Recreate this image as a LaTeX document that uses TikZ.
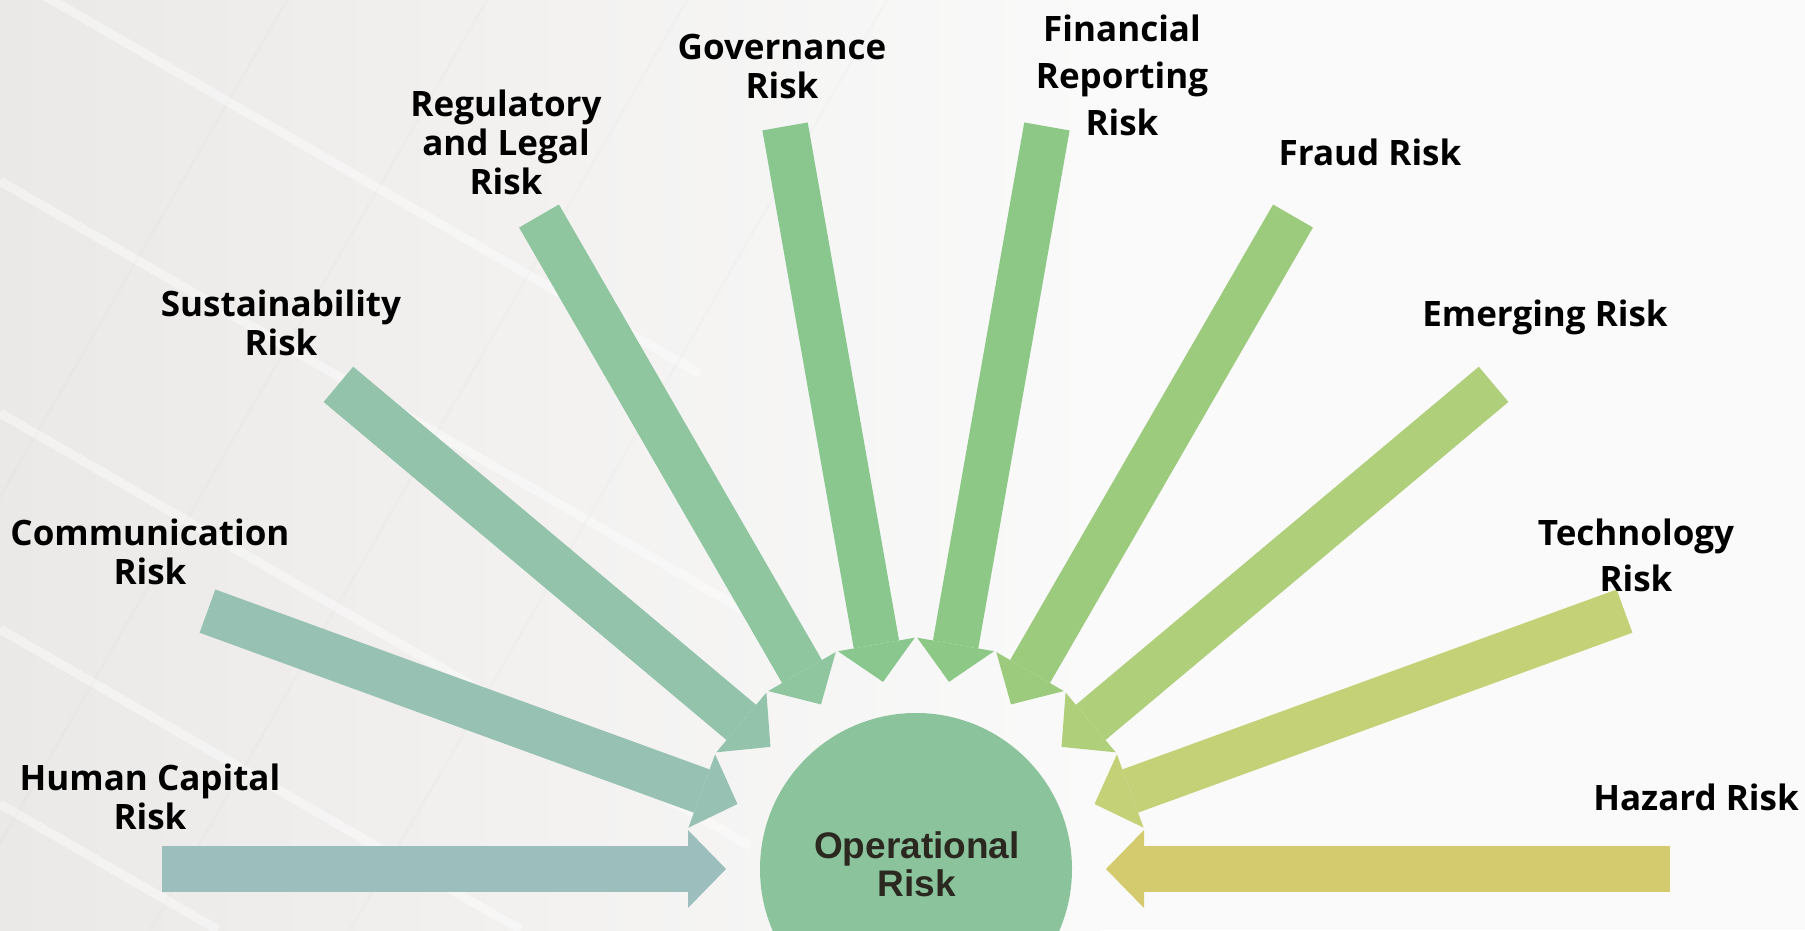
\documentclass[tikz,border=0pt]{standalone}
\usepackage{fontspec}
\setmainfont{Open Sans}
\newfontfamily\arialfont{Liberation Sans}
\usetikzlibrary{arrows.meta}
\definecolor{bgleft}{HTML}{EBE9E7}
\definecolor{bgright}{HTML}{FAFAFA}
\definecolor{opfill}{HTML}{8BC49C}
\definecolor{optextcol}{HTML}{2B2820}
\definecolor{humancol}{HTML}{9CBFBD}
\definecolor{commcol}{HTML}{97C2B3}
\definecolor{sustcol}{HTML}{93C3AB}
\definecolor{regcol}{HTML}{8FC6A0}
\definecolor{govcol}{HTML}{89C78F}
\definecolor{fincol}{HTML}{8DC886}
\definecolor{fraudcol}{HTML}{9CCB7E}
\definecolor{emergcol}{HTML}{AFCF7A}
\definecolor{techcol}{HTML}{C4D177}
\definecolor{hazcol}{HTML}{D3CB6E}
\tikzset{
  risklabel/.style = {font=\bfseries\fontsize{35}{39}\selectfont, align=center, inner sep=0},
  riskarrow/.style = {line width=46pt, draw=#1, -{Triangle[width=78pt, length=38pt, line width=0pt]}},
  optext/.style = {font=\arialfont\bfseries\fontsize{37}{38}\selectfont, text=optextcol, align=center, inner sep=0},
  streak/.style = {white, line width=9pt, opacity=0.4},
  crease/.style = {black, line width=3pt, opacity=0.012}
}

\begin{document}
\begin{tikzpicture}[x=1pt, y=1pt]
  \useasboundingbox (0, 0) rectangle (1805, 930);
  \clip (0, 0) rectangle (1805, 930);

  % background
  \fill [bgright] (0, 0) rectangle (1805, 930);
  \shade [left color=bgleft, right color=bgright] (0, 0) rectangle (1100, 930);
  \draw [streak] (0, 960) -- (700, 556);
  \draw [streak] (0, 749) -- (750, 316);
  \draw [streak] (0, 517) -- (750, 84);
  \draw [streak] (0, 301) -- (521, 0);
  \draw [streak] (0, 126) -- (218, 0);
  \draw [crease] (-250, 0) -- (287, 930);
  \draw [crease] (-50, 0) -- (487, 930);
  \draw [crease] (150, 0) -- (687, 930);
  \draw [crease] (350, 0) -- (887, 930);

  \node [circle, fill=opfill, minimum size=312, inner sep=0] (oprisk) at (916, 61) {};
  \node [optext] (optitle) at (917, 66) {Operational\\Risk};

  \coordinate (humanT) at ([shift={(180:754)}]oprisk.center);
  \coordinate (humanH) at ([shift={(180:190)}]oprisk.center);
  \coordinate (commT) at ([shift={(160:754)}]oprisk.center);
  \coordinate (commH) at ([shift={(160:190)}]oprisk.center);
  \coordinate (sustT) at ([shift={(140:754)}]oprisk.center);
  \coordinate (sustH) at ([shift={(140:190)}]oprisk.center);
  \coordinate (regT) at ([shift={(120:754)}]oprisk.center);
  \coordinate (regH) at ([shift={(120:190)}]oprisk.center);
  \coordinate (govT) at ([shift={(100:754)}]oprisk.center);
  \coordinate (govH) at ([shift={(100:190)}]oprisk.center);
  \coordinate (finT) at ([shift={(80:754)}]oprisk.center);
  \coordinate (finH) at ([shift={(80:190)}]oprisk.center);
  \coordinate (fraudT) at ([shift={(60:754)}]oprisk.center);
  \coordinate (fraudH) at ([shift={(60:190)}]oprisk.center);
  \coordinate (emergT) at ([shift={(40:754)}]oprisk.center);
  \coordinate (emergH) at ([shift={(40:190)}]oprisk.center);
  \coordinate (techT) at ([shift={(20:754)}]oprisk.center);
  \coordinate (techH) at ([shift={(20:190)}]oprisk.center);
  \coordinate (hazT) at ([shift={(0:754)}]oprisk.center);
  \coordinate (hazH) at ([shift={(0:190)}]oprisk.center);

  \draw [riskarrow=humancol] (humanT) -- (humanH);
  \draw [riskarrow=commcol] (commT) -- (commH);
  \draw [riskarrow=sustcol] (sustT) -- (sustH);
  \draw [riskarrow=regcol] (regT) -- (regH);
  \draw [riskarrow=govcol] (govT) -- (govH);
  \draw [riskarrow=fincol] (finT) -- (finH);
  \draw [riskarrow=fraudcol] (fraudT) -- (fraudH);
  \draw [riskarrow=emergcol] (emergT) -- (emergH);
  \draw [riskarrow=techcol] (techT) -- (techH);
  \draw [riskarrow=hazcol] (hazT) -- (hazH);

  \node [risklabel] (human) at (150, 133) {Human Capital\\Risk};
  \node [risklabel] (comm) at (150, 378) {Communication\\Risk};
  \node [risklabel] (sust) at (281, 607) {Sustainability\\Risk};
  \node [risklabel] (reg) at (506, 788) {Regulatory\\and Legal\\Risk};
  \node [risklabel] (gov) at (782, 863) {Governance\\Risk};
  \node [risklabel] (fin) at (1122, 855) {Financial\\[8pt]Reporting\\[8pt]Risk};
  \node [risklabel] (fraud) at (1370, 778) {Fraud Risk};
  \node [risklabel] (emerg) at (1545, 613) {Emerging Risk};
  \node [risklabel] (tech) at (1636, 375) {Technology\\[7pt]Risk};
  \node [risklabel] (haz) at (1696, 133) {Hazard Risk};
\end{tikzpicture}
\end{document}
